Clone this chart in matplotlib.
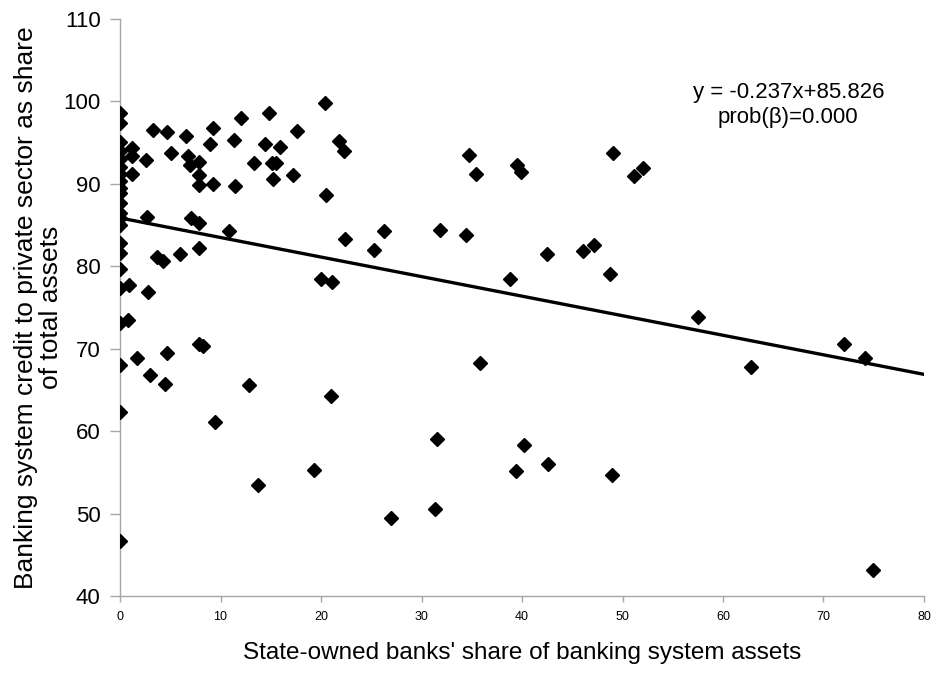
import matplotlib
matplotlib.use("Agg")
import matplotlib.pyplot as plt

plt.rcParams['font.family'] = ['Liberation Sans', 'DejaVu Sans']

# state-owned share (x) and private credit share (y)
state_share = [
    0, 0, 0, 0, 0, 0, 0, 0, 0, 0, 0, 0, 0, 0, 0, 0, 0, 0, 0, 0, 0, 0,
    1.2, 1.2, 1.2, 2.6, 3.25, 4.7, 5.1, 6.6, 6.8, 7.0, 7.9, 7.9, 7.9,
    9.3, 9.0, 9.3, 11.3, 11.4, 12.0, 13.3, 14.4, 14.8, 15.1, 15.5, 15.9,
    15.2, 17.2, 17.6, 20.4, 20.5, 2.65, 7.1, 7.9, 10.8, 7.9,
    3.65, 4.25, 6.0, 0.9, 2.8, 0.8, 1.7, 4.7, 3.0, 4.5, 7.9, 8.3,
    12.8, 9.45, 20.0, 21.1, 21.0, 13.7, 19.3,
    21.8, 22.3, 22.4, 26.3, 25.3, 31.8, 34.4, 34.7, 35.4, 39.5, 39.9,
    49.1, 42.5, 46.1, 47.2,
    38.8, 48.8, 35.8, 31.5, 40.2, 39.4, 42.6, 49.0, 27.0, 31.3,
    51.1, 52.0, 57.5, 62.8, 72.0, 74.1, 74.9,
]
private_credit = [
    98.5, 97.3, 95.0, 94.0, 93.0, 92.0, 91.2, 90.3, 89.5, 88.8, 87.6,
    85.8, 85.0, 82.8, 81.6, 79.6, 77.3, 73.1, 68.0, 62.3, 46.7, 86.4,
    94.3, 93.3, 91.1, 92.9, 96.5, 96.3, 93.7, 95.8, 93.3, 92.2, 92.6, 91.0, 89.8,
    96.7, 94.8, 89.9, 95.3, 89.7, 98.0, 92.5, 94.8, 98.6, 92.5, 92.5, 94.4,
    90.5, 91.0, 96.4, 99.8, 88.6, 85.9, 85.8, 85.2, 84.2, 82.2,
    81.1, 80.6, 81.5, 77.7, 76.8, 73.5, 68.8, 69.5, 66.8, 65.7, 70.6, 70.3,
    65.6, 61.1, 78.4, 78.1, 64.2, 53.5, 55.3,
    95.1, 94.0, 83.3, 84.2, 81.9, 84.4, 83.7, 93.5, 91.2, 92.2, 91.4,
    93.7, 81.4, 81.8, 82.6,
    78.4, 79.0, 68.2, 59.0, 58.3, 55.2, 56.0, 54.7, 49.5, 50.5,
    90.9, 91.9, 73.8, 67.8, 70.6, 68.9, 43.1,
]

slope = -0.237
intercept = 85.826
line_x = [0, 80]
line_y = [intercept + slope * v for v in line_x]

fig = plt.figure(figsize=(9.32, 6.73), dpi=100)
ax = fig.add_axes([0.1288, 0.1144, 0.8626, 0.8581])

ax.plot(line_x, line_y, color='black', lw=2.4, zorder=2)
ax.plot(state_share, private_credit, linestyle='none', marker='D',
        markersize=7.3, color='black', zorder=3)

ax.set_xlim(0, 80)
ax.set_ylim(40, 110)
ax.set_xticks(range(0, 81, 10))
ax.set_yticks(range(40, 111, 10))

for side in ['top', 'right']:
    ax.spines[side].set_visible(False)
for side in ['left', 'bottom']:
    ax.spines[side].set_color('#a6a6a6')
    ax.spines[side].set_linewidth(1.0)

ax.tick_params(axis='y', direction='out', length=7, width=1, color='#a6a6a6',
               labelsize=16, pad=7)
ax.tick_params(axis='x', direction='out', length=4, width=1, color='#a6a6a6',
               labelsize=9, pad=7)

ax.set_xlabel("State-owned banks' share of banking system assets", fontsize=17.5)
ax.xaxis.set_label_coords(0.5, -0.08)
ax.set_ylabel("Banking system credit to private sector as share\nof total assets",
              fontsize=19, linespacing=1.05)
ax.yaxis.set_label_coords(-0.071, 0.5)

ax.text(66.5, 99.5, "y = -0.237x+85.826\nprob(\u03b2)=0.000", ha='center',
        va='center', fontsize=16, linespacing=1.25)

fig.savefig("out.png", dpi=100)
